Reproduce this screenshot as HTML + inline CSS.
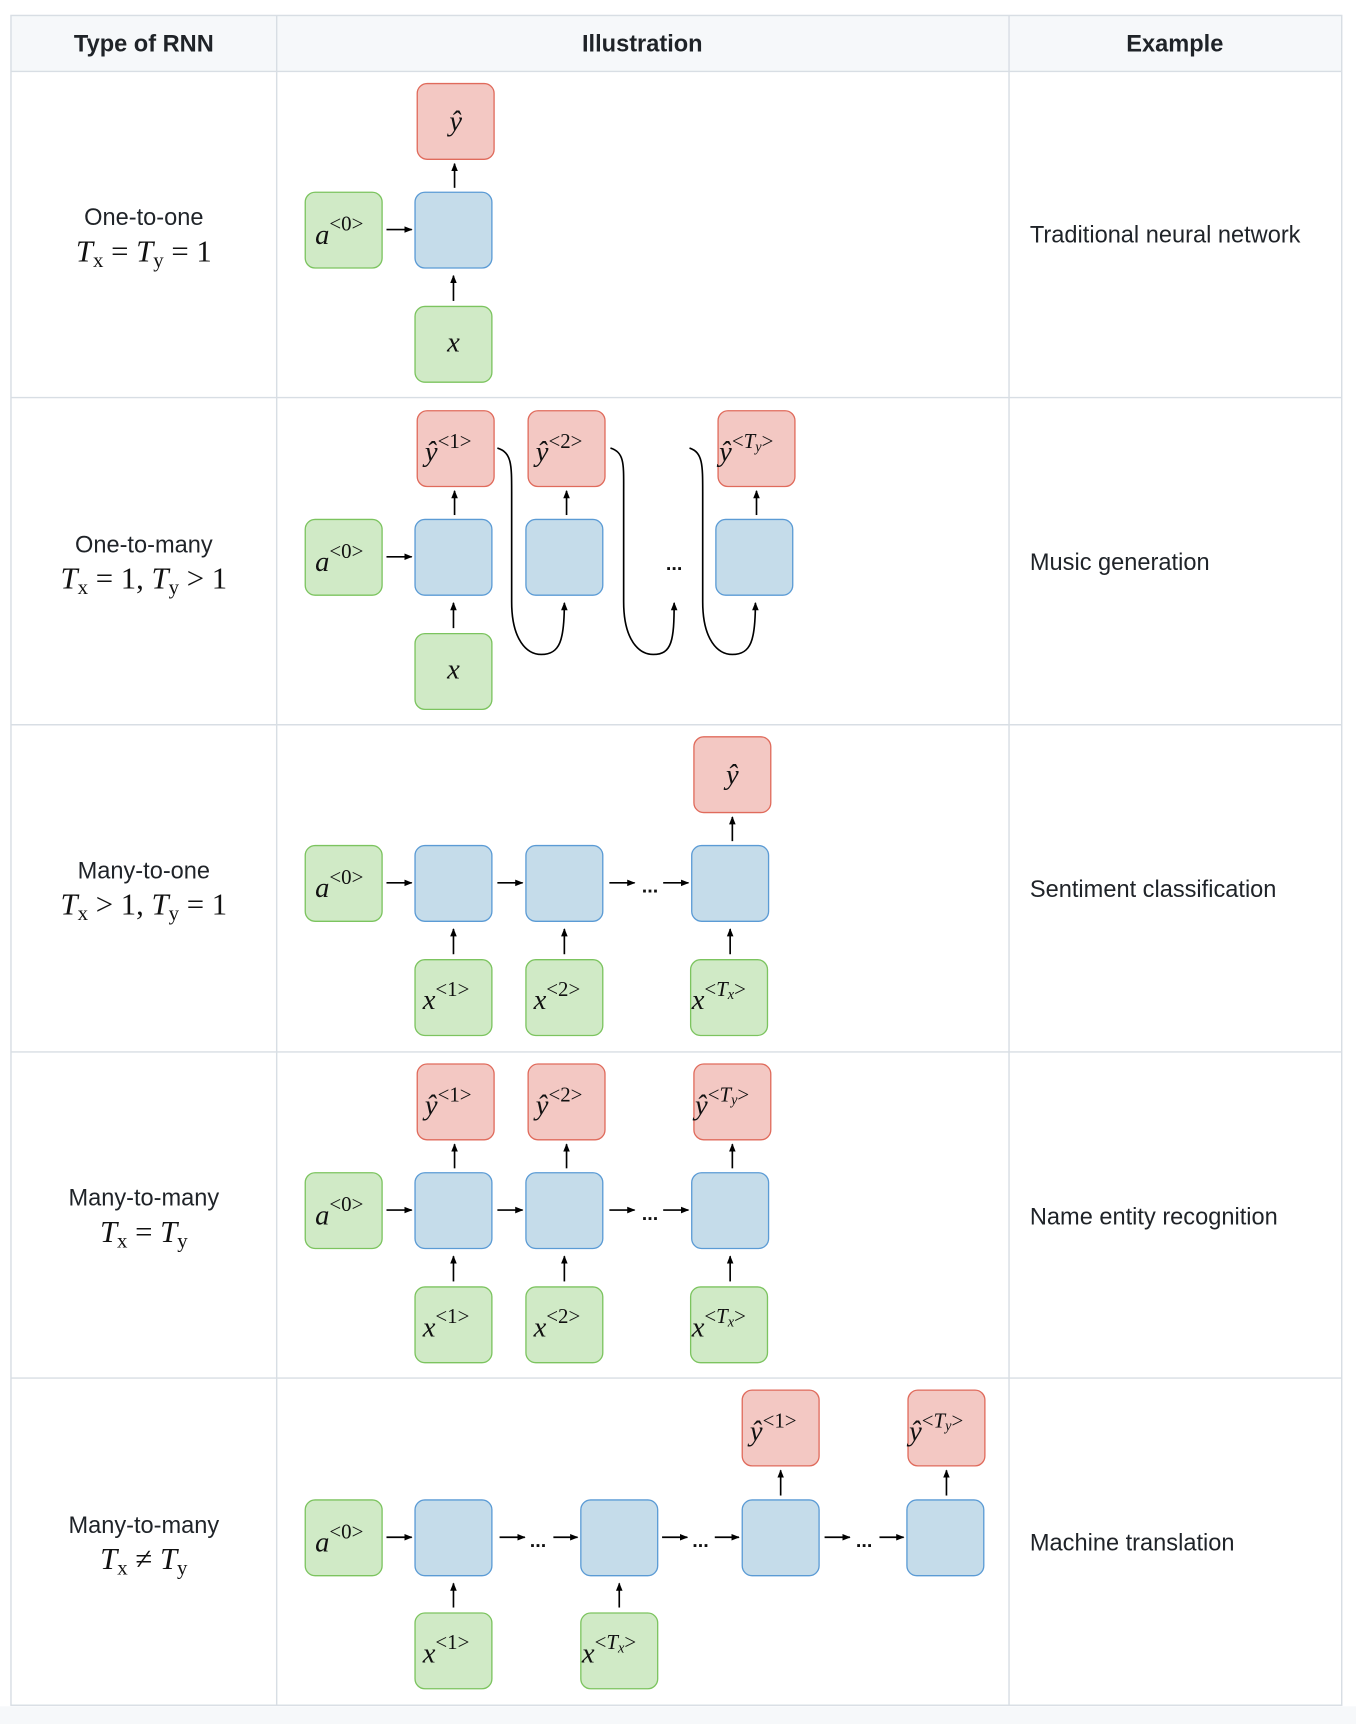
<!DOCTYPE html>
<html><head><meta charset="utf-8"><style>
html,body{margin:0;padding:0;background:#fff;}
svg{display:block;}
.h{font-family:"Liberation Sans",sans-serif;font-weight:bold;font-size:21.5px;fill:#1f2328;}
.t{font-family:"Liberation Sans",sans-serif;font-size:21.5px;fill:#1f2328;}
.m{font-family:"Liberation Serif",serif;font-style:italic;font-size:28px;fill:#111;}
.b{font-family:"Liberation Serif",serif;font-style:italic;font-size:26px;fill:#111;}
.s{font-family:"Liberation Serif",serif;font-size:19px;fill:#111;font-style:normal;}
.r{fill:#f3c8c3;stroke:#e06b5c;stroke-width:1.2;}
.u{fill:#c5dcea;stroke:#5b9bd5;stroke-width:1.2;}
.g{fill:#d0eac6;stroke:#7cc45f;stroke-width:1.2;}
.a{stroke:#000;stroke-width:1.5;fill:none;marker-end:url(#ah);}
.d{font-family:"Liberation Sans",sans-serif;font-size:18px;font-weight:bold;fill:#111;}
</style></head><body>
<svg width="1356" height="1724" viewBox="0 0 1235 1570" xmlns="http://www.w3.org/2000/svg">
<defs><marker id="ah" viewBox="0 0 10 10" refX="9" refY="5" markerWidth="5" markerHeight="5" orient="auto"><path d="M0,1 L10,5 L0,9 z" fill="#000"/></marker></defs>
<rect x="0" y="1554" width="1235" height="16" fill="#f6f8fa"/>
<rect x="10" y="14" width="1212" height="51" fill="#f6f8fa"/>
<g stroke="#d8dee4" stroke-width="1.3" fill="none">
<rect x="10" y="14" width="1212" height="1539"/>
<line x1="10" y1="65" x2="1222" y2="65"/>
<line x1="10" y1="362" x2="1222" y2="362"/>
<line x1="10" y1="660" x2="1222" y2="660"/>
<line x1="10" y1="958" x2="1222" y2="958"/>
<line x1="10" y1="1255" x2="1222" y2="1255"/>
<line x1="252" y1="14" x2="252" y2="1553"/>
<line x1="919" y1="14" x2="919" y2="1553"/>
</g>
<text class="h" x="131" y="47" text-anchor="middle">Type of RNN</text>
<text class="h" x="585" y="47" text-anchor="middle">Illustration</text>
<text class="h" x="1070" y="47" text-anchor="middle">Example</text>

<text class="t" x="131" y="205" text-anchor="middle">One-to-one</text>
<text class="m" x="131" y="238" text-anchor="middle">T<tspan class="s" dy="5" font-style="italic">x</tspan><tspan dy="-5" font-style="normal"> = </tspan>T<tspan class="s" dy="5" font-style="italic">y</tspan><tspan dy="-5" font-style="normal"> = 1</tspan></text>
<text class="t" x="131" y="503" text-anchor="middle">One-to-many</text>
<text class="m" x="131" y="536" text-anchor="middle">T<tspan class="s" dy="5" font-style="italic">x</tspan><tspan dy="-5" font-style="normal"> = 1, </tspan>T<tspan class="s" dy="5" font-style="italic">y</tspan><tspan dy="-5" font-style="normal"> &gt; 1</tspan></text>
<text class="t" x="131" y="800" text-anchor="middle">Many-to-one</text>
<text class="m" x="131" y="833" text-anchor="middle">T<tspan class="s" dy="5" font-style="italic">x</tspan><tspan dy="-5" font-style="normal"> &gt; 1, </tspan>T<tspan class="s" dy="5" font-style="italic">y</tspan><tspan dy="-5" font-style="normal"> = 1</tspan></text>
<text class="t" x="131" y="1098" text-anchor="middle">Many-to-many</text>
<text class="m" x="131" y="1131" text-anchor="middle">T<tspan class="s" dy="5" font-style="italic">x</tspan><tspan dy="-5" font-style="normal"> = </tspan>T<tspan class="s" dy="5" font-style="italic">y</tspan></text>
<text class="t" x="131" y="1396" text-anchor="middle">Many-to-many</text>
<text class="m" x="131" y="1429" text-anchor="middle">T<tspan class="s" dy="5" font-style="italic">x</tspan><tspan dy="-5" font-style="normal"> ≠ </tspan>T<tspan class="s" dy="5" font-style="italic">y</tspan></text>

<text class="t" x="938" y="221">Traditional neural network</text>
<text class="t" x="938" y="519">Music generation</text>
<text class="t" x="938" y="817">Sentiment classification</text>
<text class="t" x="938" y="1115">Name entity recognition</text>
<text class="t" x="938" y="1412">Machine translation</text>

<!-- Row 1 -->
<g>
<rect class="r" x="380" y="76" width="70" height="69" rx="9"/>
<text class="b" x="415" y="119" text-anchor="middle">ŷ</text>
<rect class="g" x="278" y="175" width="70" height="69" rx="9"/>
<text class="b" x="287" y="222">a<tspan class="s" dy="-12">&lt;0&gt;</tspan></text>
<rect class="u" x="378" y="175" width="70" height="69" rx="9"/>
<rect class="g" x="378" y="279" width="70" height="69" rx="9"/>
<text class="b" x="413" y="320" text-anchor="middle">x</text>
<line class="a" x1="352" y1="209" x2="375" y2="209"/>
<line class="a" x1="414" y1="171" x2="414" y2="149"/>
<line class="a" x1="413" y1="274" x2="413" y2="251"/>
</g>

<!-- Row 2 -->
<g transform="translate(0,298)">
<rect class="r" x="380" y="76" width="70" height="69" rx="9"/>
<text class="b" x="387" y="122">ŷ<tspan class="s" dy="-12">&lt;1&gt;</tspan></text>
<rect class="r" x="481" y="76" width="70" height="69" rx="9"/>
<text class="b" x="488" y="122">ŷ<tspan class="s" dy="-12">&lt;2&gt;</tspan></text>
<rect class="r" x="654" y="76" width="70" height="69" rx="9"/>
<text class="b" x="655" y="122">ŷ<tspan class="s" dy="-12">&lt;<tspan font-style="italic">T</tspan><tspan font-size="13" font-style="italic" dy="3">y</tspan><tspan dy="-3">&gt;</tspan></tspan></text>
<rect class="g" x="278" y="175" width="70" height="69" rx="9"/>
<text class="b" x="287" y="222">a<tspan class="s" dy="-12">&lt;0&gt;</tspan></text>
<rect class="u" x="378" y="175" width="70" height="69" rx="9"/>
<rect class="u" x="479" y="175" width="70" height="69" rx="9"/>
<rect class="u" x="652" y="175" width="70" height="69" rx="9"/>
<text class="d" x="614" y="221" text-anchor="middle">...</text>
<rect class="g" x="378" y="279" width="70" height="69" rx="9"/>
<text class="b" x="413" y="320" text-anchor="middle">x</text>
<line class="a" x1="352" y1="209" x2="375" y2="209"/>
<line class="a" x1="414" y1="171" x2="414" y2="149"/>
<line class="a" x1="516" y1="171" x2="516" y2="149"/>
<line class="a" x1="689" y1="171" x2="689" y2="149"/>
<line class="a" x1="413" y1="274" x2="413" y2="251"/>
<path class="a" d="M453,110 C466,114 466,125 466,150 L466,250 C466,285 480,298 493,298 C510,298 514,285 514,251"/>
<path class="a" d="M556,110 C569,114 568,125 568,150 L568,250 C568,285 582,298 595,298 C612,298 614,285 614,251"/>
<path class="a" d="M628,110 C640,114 640,125 640,150 L640,250 C640,285 654,298 667,298 C684,298 688,285 688,251"/>
</g>

<!-- Row 3 -->
<g transform="translate(0,595)">
<rect class="r" x="632" y="76" width="70" height="69" rx="9"/>
<text class="b" x="667" y="119" text-anchor="middle">ŷ</text>
<rect class="g" x="278" y="175" width="70" height="69" rx="9"/>
<text class="b" x="287" y="222">a<tspan class="s" dy="-12">&lt;0&gt;</tspan></text>
<rect class="u" x="378" y="175" width="70" height="69" rx="9"/>
<rect class="u" x="479" y="175" width="70" height="69" rx="9"/>
<rect class="u" x="630" y="175" width="70" height="69" rx="9"/>
<line class="a" x1="352" y1="209" x2="375" y2="209"/>
<line class="a" x1="453" y1="209" x2="476" y2="209"/>
<line class="a" x1="555" y1="209" x2="578" y2="209"/>
<text class="d" x="592" y="218" text-anchor="middle">...</text>
<line class="a" x1="604" y1="209" x2="627" y2="209"/>
<line class="a" x1="667" y1="171" x2="667" y2="149"/>
<rect class="g" x="378" y="279" width="70" height="69" rx="9"/>
<text class="b" x="385" y="324">x<tspan class="s" dy="-12">&lt;1&gt;</tspan></text>
<rect class="g" x="479" y="279" width="70" height="69" rx="9"/>
<text class="b" x="486" y="324">x<tspan class="s" dy="-12">&lt;2&gt;</tspan></text>
<rect class="g" x="629" y="279" width="70" height="69" rx="9"/>
<text class="b" x="630" y="324">x<tspan class="s" dy="-12">&lt;<tspan font-style="italic">T</tspan><tspan font-size="13" font-style="italic" dy="3">x</tspan><tspan dy="-3">&gt;</tspan></tspan></text>
<line class="a" x1="413" y1="274" x2="413" y2="251"/>
<line class="a" x1="514" y1="274" x2="514" y2="251"/>
<line class="a" x1="665" y1="274" x2="665" y2="251"/>
</g>

<!-- Row 4 -->
<g transform="translate(0,893)">
<rect class="r" x="380" y="76" width="70" height="69" rx="9"/>
<text class="b" x="387" y="122">ŷ<tspan class="s" dy="-12">&lt;1&gt;</tspan></text>
<rect class="r" x="481" y="76" width="70" height="69" rx="9"/>
<text class="b" x="488" y="122">ŷ<tspan class="s" dy="-12">&lt;2&gt;</tspan></text>
<rect class="r" x="632" y="76" width="70" height="69" rx="9"/>
<text class="b" x="633" y="122">ŷ<tspan class="s" dy="-12">&lt;<tspan font-style="italic">T</tspan><tspan font-size="13" font-style="italic" dy="3">y</tspan><tspan dy="-3">&gt;</tspan></tspan></text>
<rect class="g" x="278" y="175" width="70" height="69" rx="9"/>
<text class="b" x="287" y="222">a<tspan class="s" dy="-12">&lt;0&gt;</tspan></text>
<rect class="u" x="378" y="175" width="70" height="69" rx="9"/>
<rect class="u" x="479" y="175" width="70" height="69" rx="9"/>
<rect class="u" x="630" y="175" width="70" height="69" rx="9"/>
<line class="a" x1="352" y1="209" x2="375" y2="209"/>
<line class="a" x1="453" y1="209" x2="476" y2="209"/>
<line class="a" x1="555" y1="209" x2="578" y2="209"/>
<text class="d" x="592" y="218" text-anchor="middle">...</text>
<line class="a" x1="604" y1="209" x2="627" y2="209"/>
<line class="a" x1="414" y1="171" x2="414" y2="149"/>
<line class="a" x1="516" y1="171" x2="516" y2="149"/>
<line class="a" x1="667" y1="171" x2="667" y2="149"/>
<rect class="g" x="378" y="279" width="70" height="69" rx="9"/>
<text class="b" x="385" y="324">x<tspan class="s" dy="-12">&lt;1&gt;</tspan></text>
<rect class="g" x="479" y="279" width="70" height="69" rx="9"/>
<text class="b" x="486" y="324">x<tspan class="s" dy="-12">&lt;2&gt;</tspan></text>
<rect class="g" x="629" y="279" width="70" height="69" rx="9"/>
<text class="b" x="630" y="324">x<tspan class="s" dy="-12">&lt;<tspan font-style="italic">T</tspan><tspan font-size="13" font-style="italic" dy="3">x</tspan><tspan dy="-3">&gt;</tspan></tspan></text>
<line class="a" x1="413" y1="274" x2="413" y2="251"/>
<line class="a" x1="514" y1="274" x2="514" y2="251"/>
<line class="a" x1="665" y1="274" x2="665" y2="251"/>
</g>

<!-- Row 5 -->
<g transform="translate(0,1191)">
<rect class="r" x="676" y="75" width="70" height="69" rx="9"/>
<text class="b" x="683" y="121">ŷ<tspan class="s" dy="-12">&lt;1&gt;</tspan></text>
<rect class="r" x="827" y="75" width="70" height="69" rx="9"/>
<text class="b" x="828" y="121">ŷ<tspan class="s" dy="-12">&lt;<tspan font-style="italic">T</tspan><tspan font-size="13" font-style="italic" dy="3">y</tspan><tspan dy="-3">&gt;</tspan></tspan></text>
<rect class="g" x="278" y="175" width="70" height="69" rx="9"/>
<text class="b" x="287" y="222">a<tspan class="s" dy="-12">&lt;0&gt;</tspan></text>
<rect class="u" x="378" y="175" width="70" height="69" rx="9"/>
<rect class="u" x="529" y="175" width="70" height="69" rx="9"/>
<rect class="u" x="676" y="175" width="70" height="69" rx="9"/>
<rect class="u" x="826" y="175" width="70" height="69" rx="9"/>
<line class="a" x1="352" y1="209" x2="375" y2="209"/>
<line class="a" x1="455" y1="209" x2="478" y2="209"/>
<text class="d" x="490" y="218" text-anchor="middle">...</text>
<line class="a" x1="504" y1="209" x2="526" y2="209"/>
<line class="a" x1="603" y1="209" x2="626" y2="209"/>
<text class="d" x="638" y="218" text-anchor="middle">...</text>
<line class="a" x1="651" y1="209" x2="673" y2="209"/>
<line class="a" x1="751" y1="209" x2="774" y2="209"/>
<text class="d" x="787" y="218" text-anchor="middle">...</text>
<line class="a" x1="801" y1="209" x2="823" y2="209"/>
<line class="a" x1="711" y1="171" x2="711" y2="148"/>
<line class="a" x1="862" y1="171" x2="862" y2="148"/>
<rect class="g" x="378" y="278" width="70" height="69" rx="9"/>
<text class="b" x="385" y="323">x<tspan class="s" dy="-12">&lt;1&gt;</tspan></text>
<rect class="g" x="529" y="278" width="70" height="69" rx="9"/>
<text class="b" x="530" y="323">x<tspan class="s" dy="-12">&lt;<tspan font-style="italic">T</tspan><tspan font-size="13" font-style="italic" dy="3">x</tspan><tspan dy="-3">&gt;</tspan></tspan></text>
<line class="a" x1="413" y1="273" x2="413" y2="251"/>
<line class="a" x1="564" y1="273" x2="564" y2="251"/>
</g>
</svg>
</body></html>
